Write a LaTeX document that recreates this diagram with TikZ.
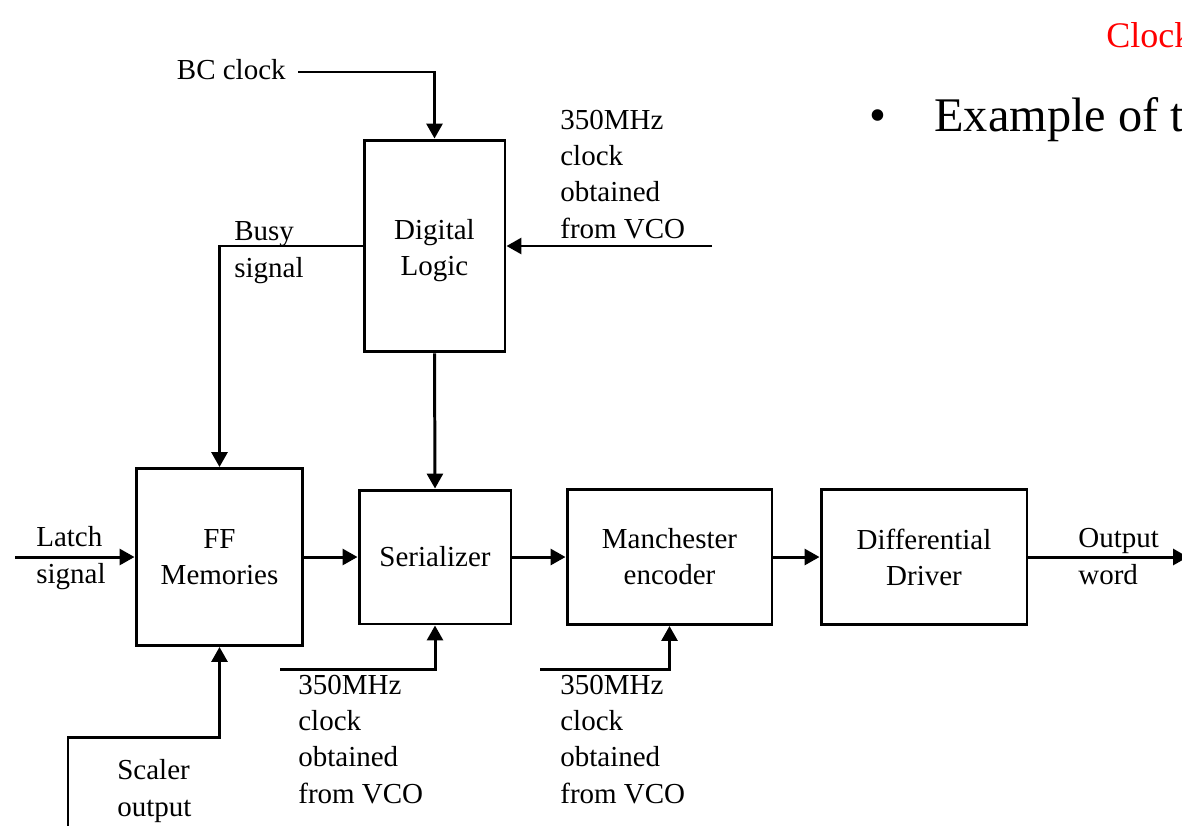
\documentclass[tikz,border=0pt]{standalone}
\usepackage{fontspec}
\setmainfont{Liberation Serif}
\usetikzlibrary{arrows.meta}
\newcommand\diagfont{\fontsize{16.5pt}{20.5pt}\selectfont}
\begin{document}
\begin{tikzpicture}[x=0.02cm,y=-0.02cm,
  blk/.style={draw, line width=1.7pt, align=center, font=\diagfont, inner sep=0pt},
  lbl/.style={font=\diagfont, align=left, inner sep=0pt},
  wire/.style={line width=1.7pt},
  arr/.style={wire, -{Triangle[length=0.3cm,width=0.32cm]}}]
\useasboundingbox (0,0) rectangle (1182,825);
\clip (0,0) rectangle (1182,825);

% heading text
\node[anchor=base west, inner sep=0pt, text=red, font=\fontsize{20.5pt}{24pt}\selectfont] (hdr) at (1106,47) {Clock};
\node[anchor=base west, inner sep=0pt, font=\fontsize{27.5pt}{32pt}\selectfont] (bul) at (869,131) {\textbullet};
\node[anchor=base west, inner sep=0pt, font=\fontsize{27.5pt}{32pt}\selectfont] (ex) at (934,131) {Example of t};

% blocks
\node[blk, minimum width=2.82cm, minimum height=4.24cm] (dl) at (434.5,246) {};
\node[font=\diagfont, align=center, inner sep=0pt] (dltext) at (434.5,251) {Digital\\Logic};
\node[blk, minimum width=3.34cm, minimum height=3.54cm] (ff) at (219.5,557) {FF\\Memories};
\node[blk, minimum width=3.04cm, minimum height=2.68cm] (ser) at (435,557) {Serializer};
\node[blk, minimum width=4.1cm, minimum height=2.7cm] (man) at (669.5,557) {Manchester\\encoder};
\node[blk, minimum width=4.12cm, minimum height=2.7cm] (dd) at (924,557) {Differential\\Driver};

% labels (base = baseline of the last line)
\node[lbl, anchor=east] (bc) at (286,70) {BC clock};
\node[lbl, anchor=base west] (vco1) at (560,238) {350MHz\\clock\\obtained\\from VCO};
\node[lbl, anchor=base west] (busy) at (234,277) {Busy\\signal};
\node[lbl, anchor=base west] (latch) at (36,583) {Latch\\signal};
\node[lbl, anchor=base west] (out) at (1078,584) {Output\\word};
\node[lbl, anchor=base west] (vco2) at (298,803) {350MHz\\clock\\obtained\\from VCO};
\node[lbl, anchor=base west] (vco3) at (560,803) {350MHz\\clock\\obtained\\from VCO};
\node[lbl, anchor=base west] (scal) at (117,816) {Scaler\\output};

% free ends of the wires
\coordinate (bcs) at (298,72);
\coordinate (v1s) at (712,246);
\coordinate (lts) at (15,557);
\coordinate (ots) at (1188,557);
\coordinate (v2s) at (280,669);
\coordinate (v3s) at (540,669);
\coordinate (scs) at (68,830);
\coordinate (scb) at (68,737);

% connectors
\draw[arr] (bcs) -| (dl.north);
\draw[arr] (v1s) -- (dl.east);
\draw[arr] (dl.west) -| (ff.north);
\draw[arr] (dl.south) -- (ser.north);
\draw[arr] (lts) -- (ff.west);
\draw[arr] (ff.east) -- (ser.west);
\draw[arr] (ser.east) -- (man.west);
\draw[arr] (man.east) -- (dd.west);
\draw[arr] (dd.east) -- (ots);
\draw[arr] (v2s) -| (ser.south);
\draw[arr] (v3s) -| (man.south);
\draw[arr] (scs) -- (scb) -| (ff.south);
\end{tikzpicture}
\end{document}
